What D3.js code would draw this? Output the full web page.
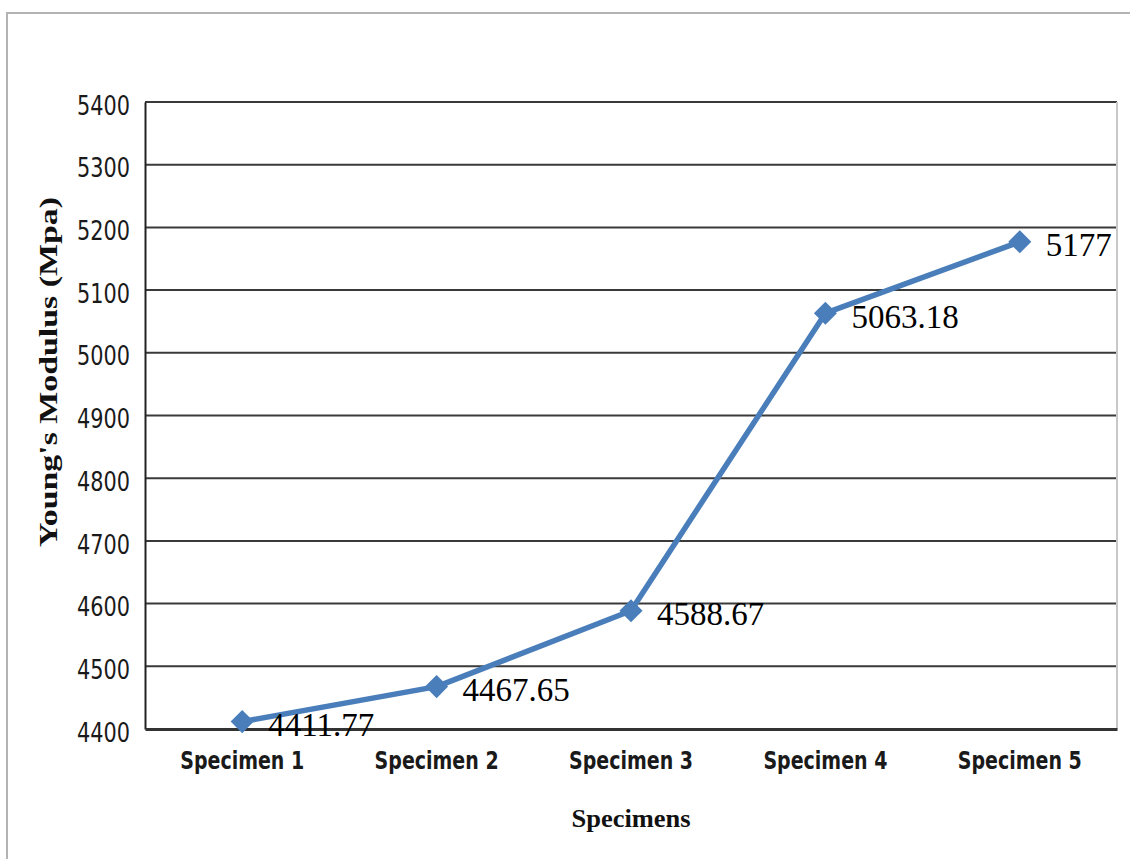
<!DOCTYPE html>
<html>
<head>
<meta charset="utf-8">
<script src="https://cdn.jsdelivr.net/npm/d3@7/dist/d3.min.js"></script>
<style>
  html, body { margin: 0; padding: 0; background: #fff; }
  svg { display: block; }
</style>
</head>
<body>
<svg id="chart" width="1130" height="859"></svg>
<script>
const categories = ["Specimen 1", "Specimen 2", "Specimen 3", "Specimen 4", "Specimen 5"];
const values = [4411.77, 4467.65, 4588.67, 5063.18, 5177];
const valueLabels = ["4411.77", "4467.65", "4588.67", "5063.18", "5177"];
const yTicks = [4400, 4500, 4600, 4700, 4800, 4900, 5000, 5100, 5200, 5300, 5400];
const yTitle = "Young's Modulus (Mpa)";
const xTitle = "Specimens";

const svg = d3.select("#chart");
const W = 1130, H = 859;
const plot = { left: 145, right: 1117, top: 102, bottom: 729 };

// outer chart border
svg.append("rect")
  .attr("x", 7).attr("y", 13)
  .attr("width", W + 10).attr("height", H + 10)
  .attr("fill", "#fff").attr("stroke", "#b3b3b3").attr("stroke-width", 2);

const x = d3.scaleBand().domain(categories).range([plot.left, plot.right]).padding(0);
const y = d3.scaleLinear().domain([4400, 5400]).range([plot.bottom, plot.top]);

const tickFont = "'Liberation Sans Narrow', 'DejaVu Sans Condensed', 'Arial Narrow', sans-serif";

// gridlines
svg.append("g")
  .selectAll("line")
  .data(yTicks.filter(t => t !== 4400))
  .join("line")
  .attr("x1", plot.left).attr("x2", plot.right)
  .attr("y1", d => y(d)).attr("y2", d => y(d))
  .attr("stroke", "#3a3a3a").attr("stroke-width", 2);

// right border of plot area
svg.append("line")
  .attr("x1", plot.right).attr("x2", plot.right)
  .attr("y1", plot.top).attr("y2", plot.bottom)
  .attr("stroke", "#c8c8c8").attr("stroke-width", 2);

// y axis
const yAxis = svg.append("g")
  .attr("transform", `translate(${plot.left},0)`)
  .call(d3.axisLeft(y).tickValues(yTicks).tickSize(0).tickPadding(15).tickFormat(d3.format("d")));
yAxis.select(".domain").attr("stroke", "#222").attr("stroke-width", 2);
yAxis.selectAll("text")
  .attr("font-family", tickFont)
  .attr("font-size", 27)
  .attr("textLength", 53)
  .attr("lengthAdjust", "spacingAndGlyphs")
  .attr("fill", "#1a1a1a")
  .attr("dy", "0.45em");

// x axis
const xAxis = svg.append("g")
  .attr("transform", `translate(0,${plot.bottom})`)
  .call(d3.axisBottom(x).tickSize(0).tickPadding(22));
xAxis.select(".domain").attr("stroke", "#333").attr("stroke-width", 3);
xAxis.selectAll("text")
  .attr("font-family", tickFont)
  .attr("font-size", 25)
  .attr("font-weight", "bold")
  .attr("textLength", 124)
  .attr("lengthAdjust", "spacingAndGlyphs")
  .attr("fill", "#1a1a1a")
  .attr("dy", "0.71em");

// line
const line = d3.line()
  .x((d, i) => x(categories[i]) + x.bandwidth() / 2)
  .y(d => y(d));
svg.append("path")
  .datum(values)
  .attr("d", line)
  .attr("fill", "none")
  .attr("stroke", "#4a7ebb")
  .attr("stroke-width", 5.5)
  .attr("stroke-linejoin", "round");

// markers
const diamond = d3.symbol().type(d3.symbolDiamond2 || d3.symbolDiamond).size(340);
svg.append("g")
  .selectAll("path")
  .data(values)
  .join("path")
  .attr("transform", (d, i) => `translate(${x(categories[i]) + x.bandwidth() / 2},${y(d)})`)
  .attr("d", diamond)
  .attr("fill", "#4a7ebb");

// data labels
svg.append("g")
  .selectAll("text")
  .data(values)
  .join("text")
  .attr("x", (d, i) => x(categories[i]) + x.bandwidth() / 2 + 26)
  .attr("y", d => y(d) + 3)
  .attr("dy", "0.35em")
  .attr("font-family", "'Liberation Serif', 'Times New Roman', serif")
  .attr("font-size", 33)
  .attr("fill", "#000")
  .text((d, i) => valueLabels[i]);

// y title
svg.append("text")
  .attr("transform", `translate(57,372) rotate(-90)`)
  .attr("text-anchor", "middle")
  .attr("font-family", "'Liberation Serif', 'Times New Roman', serif")
  .attr("font-weight", "bold")
  .attr("font-size", 25)
  .attr("textLength", 350)
  .attr("lengthAdjust", "spacingAndGlyphs")
  .attr("fill", "#111")
  .text(yTitle);

// x title
svg.append("text")
  .attr("x", 631).attr("y", 827)
  .attr("text-anchor", "middle")
  .attr("font-family", "'Liberation Serif', 'Times New Roman', serif")
  .attr("font-weight", "bold")
  .attr("font-size", 26)
  .attr("textLength", 119)
  .attr("lengthAdjust", "spacingAndGlyphs")
  .attr("fill", "#111")
  .text(xTitle);
</script>
</body>
</html>
